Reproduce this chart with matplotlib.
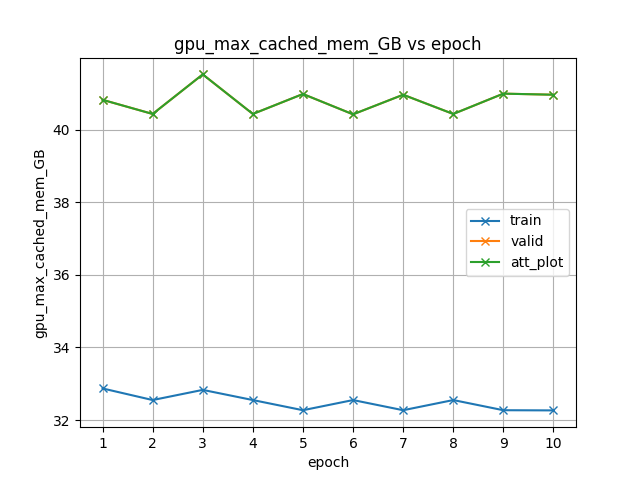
import matplotlib
matplotlib.use("Agg")
import matplotlib.pyplot as plt

epochs = [1, 2, 3, 4, 5, 6, 7, 8, 9, 10]
train = [32.87, 32.55, 32.83, 32.55, 32.27, 32.55, 32.27, 32.55, 32.27, 32.265]
valid = [40.82, 40.43, 41.52, 40.43, 40.98, 40.42, 40.96, 40.43, 40.99, 40.96]
att_plot = [40.82, 40.43, 41.52, 40.43, 40.98, 40.42, 40.96, 40.43, 40.99, 40.96]

fig, ax = plt.subplots(figsize=(6.4, 4.8), dpi=100)
ax.plot(epochs, train, marker="x", label="train")
ax.plot(epochs, valid, marker="x", label="valid")
ax.plot(epochs, att_plot, marker="x", label="att_plot")
ax.set_xticks(epochs)
ax.set_xlabel("epoch")
ax.set_ylabel("gpu_max_cached_mem_GB")
ax.set_title("gpu_max_cached_mem_GB vs epoch")
ax.grid(True)
ax.legend(loc="center right")
fig.savefig("out.png")
